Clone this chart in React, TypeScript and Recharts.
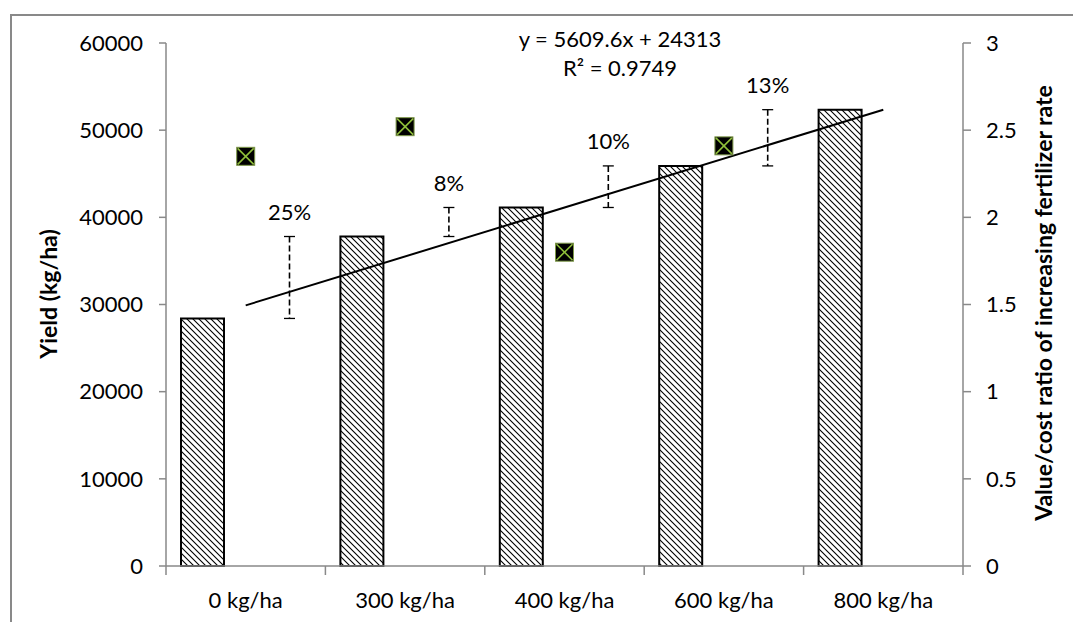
import { ComposedChart, Bar, Line, XAxis, YAxis } from 'recharts';

const CATEGORIES = ['0 kg/ha', '300 kg/ha', '400 kg/ha', '600 kg/ha', '800 kg/ha'];
const YIELD = [28400, 37800, 41130, 45900, 52350];
// yield step to the next rate (dashed bars) and its % gain
const STEP_LOW = [28400, 37800, 41130, 45900, null];
const STEP_HIGH = [37800, 41130, 45900, 52350, null];
const STEP_LABELS = ['25%', '8%', '10%', '13%', ''];
// value/cost ratio, secondary axis
const VCR = [2.35, 2.52, 1.8, 2.41, null];
// linear trendline ends (y = 5609.6x + 24313)
const TREND = [29900, null, null, null, 52350];

const YIELD_TICKS = [0, 10000, 20000, 30000, 40000, 50000, 60000];
const VCR_TICKS = [0, 0.5, 1, 1.5, 2, 2.5, 3];

const data = CATEGORIES.map((cat, i) => ({
  cat,
  yield: YIELD[i],
  step: STEP_LOW[i] == null ? null : [STEP_LOW[i], STEP_HIGH[i]],
  stepLabel: STEP_LABELS[i],
  vcr: VCR[i],
  trend: TREND[i],
}));

const W = 1073;
const H = 622;
const PLOT_LEFT = 166;
const PLOT_RIGHT = 963;
const BAND = (PLOT_RIGHT - PLOT_LEFT) / CATEGORIES.length;
const AXIS = '#898989';
const FONT = 'Lato, "Open Sans", sans-serif';
const FS = 22;

function CatTick(props: any) {
  const { x, y, payload, index } = props;
  const half = BAND / 2;
  return (
    <g>
      <line x1={x - half} x2={x - half} y1={y} y2={y + 9} stroke={AXIS} strokeWidth={1.5} />
      {index === CATEGORIES.length - 1 && (
        <line x1={x + half} x2={x + half} y1={y} y2={y + 9} stroke={AXIS} strokeWidth={1.5} />
      )}
      <text x={x} y={y + 33} textAnchor="middle" dominantBaseline="central" fontSize={FS} fill="#000" fontFamily={FONT}>
        {payload.value}
      </text>
    </g>
  );
}

function StepShape(props: any) {
  const { x, y, width, height, payload } = props;
  if (payload.step == null || height == null) return null;
  const cx = x + width / 2;
  const top = Math.min(y, y + height);
  const bot = Math.max(y, y + height);
  return (
    <g>
      <line x1={cx} x2={cx} y1={top} y2={bot} stroke="#000" strokeWidth={1.6} strokeDasharray="6 3" />
      <line x1={cx - 5.5} x2={cx + 5.5} y1={top} y2={top} stroke="#000" strokeWidth={1.3} />
      <line x1={cx - 5.5} x2={cx + 5.5} y1={bot} y2={bot} stroke="#000" strokeWidth={1.3} />
      <text x={cx} y={top - 25} textAnchor="middle" dominantBaseline="central" fontSize={FS} fill="#000" fontFamily={FONT}>
        {payload.stepLabel}
      </text>
    </g>
  );
}

function BoxX(props: any) {
  const { cx, cy, value } = props;
  if (value == null || cx == null || cy == null) return null;
  const s = 9;
  return (
    <g>
      <rect x={cx - s} y={cy - s} width={s * 2} height={s * 2} fill="#000" stroke="#7f9a4a" strokeWidth={1} />
      <line x1={cx - s + 1} y1={cy - s + 1} x2={cx + s - 1} y2={cy + s - 1} stroke="#8fbf3a" strokeWidth={1.6} />
      <line x1={cx - s + 1} y1={cy + s - 1} x2={cx + s - 1} y2={cy - s + 1} stroke="#8fbf3a" strokeWidth={1.6} />
    </g>
  );
}

export default function App() {
  return (
    <div style={{ position: 'relative', width: W, height: H, overflow: 'hidden', background: '#fff', fontFamily: FONT }}>
      <style>{'body{margin:0}'}</style>
      <div
        style={{
          position: 'absolute',
          left: 10,
          top: 14,
          width: 1200,
          height: 800,
          border: `2px solid ${AXIS}`,
        }}
      />
      <div style={{ position: 'absolute', left: 0, top: 0 }}>
        <ComposedChart
          width={W}
          height={H}
          data={data}
          margin={{ top: 43, right: 30, left: 86, bottom: 10 }}
          barCategoryGap={15}
          barGap={44}
        >
          <defs>
            <pattern id="hatch" patternUnits="userSpaceOnUse" width={6} height={6}>
              <rect width={6} height={6} fill="#fff" />
              <path d="M-1,-1 L7,7 M-1,5 L1,7 M5,-1 L7,1" stroke="#000" strokeWidth={1.1} />
            </pattern>
          </defs>
          <XAxis
            dataKey="cat"
            height={46}
            tickSize={0}
            tickMargin={0}
            tickLine={false}
            axisLine={{ stroke: AXIS, strokeWidth: 1.5 }}
            tick={<CatTick />}
            interval={0}
          />
          <YAxis
            yAxisId="left"
            width={80}
            domain={[0, 60000]}
            ticks={YIELD_TICKS}
            interval={0}
            tickSize={7}
            tickMargin={16}
            axisLine={{ stroke: AXIS, strokeWidth: 1.5 }}
            tickLine={{ stroke: AXIS, strokeWidth: 1.5 }}
            tick={{ fontSize: FS, fill: '#000', fontFamily: FONT }}
          />
          <YAxis
            yAxisId="right"
            orientation="right"
            width={80}
            domain={[0, 3]}
            ticks={VCR_TICKS}
            interval={0}
            tickSize={8}
            tickMargin={15}
            axisLine={{ stroke: AXIS, strokeWidth: 1.5 }}
            tickLine={{ stroke: AXIS, strokeWidth: 1.5 }}
            tick={{ fontSize: FS, fill: '#000', fontFamily: FONT }}
          />
          <Bar
            yAxisId="left"
            dataKey="yield"
            barSize={43}
            fill="url(#hatch)"
            stroke="#000"
            strokeWidth={2}
            isAnimationActive={false}
          />
          <Bar
            yAxisId="left"
            dataKey="step"
            barSize={43}
            shape={<StepShape />}
            isAnimationActive={false}
          />
          <Line
            yAxisId="left"
            dataKey="trend"
            connectNulls
            dot={false}
            activeDot={false}
            stroke="#000"
            strokeWidth={2}
            isAnimationActive={false}
          />
          <Line
            yAxisId="right"
            dataKey="vcr"
            stroke="none"
            dot={<BoxX />}
            activeDot={false}
            isAnimationActive={false}
          />
        </ComposedChart>
      </div>
      <svg width={W} height={H} style={{ position: 'absolute', left: 0, top: 0, pointerEvents: 'none' }}>
        <text
          x={48}
          y={294}
          transform="rotate(-90 48 294)"
          textAnchor="middle"
          dominantBaseline="central"
          fontSize={23}
          fontWeight="bold"
          fontFamily={FONT}
          fill="#000"
        >
          Yield (kg/ha)
        </text>
        <text
          x={1043}
          y={303}
          transform="rotate(-90 1043 303)"
          textAnchor="middle"
          dominantBaseline="central"
          fontSize={23}
          fontWeight="bold"
          fontFamily={FONT}
          fill="#000"
        >
          Value/cost ratio of increasing fertilizer rate
        </text>
        <text x={620} y={38} textAnchor="middle" dominantBaseline="central" fontSize={FS} fontFamily={FONT} fill="#000">
          y = 5609.6x + 24313
        </text>
        <text x={620} y={67} textAnchor="middle" dominantBaseline="central" fontSize={FS} fontFamily={FONT} fill="#000">
          R² = 0.9749
        </text>
      </svg>
    </div>
  );
}
